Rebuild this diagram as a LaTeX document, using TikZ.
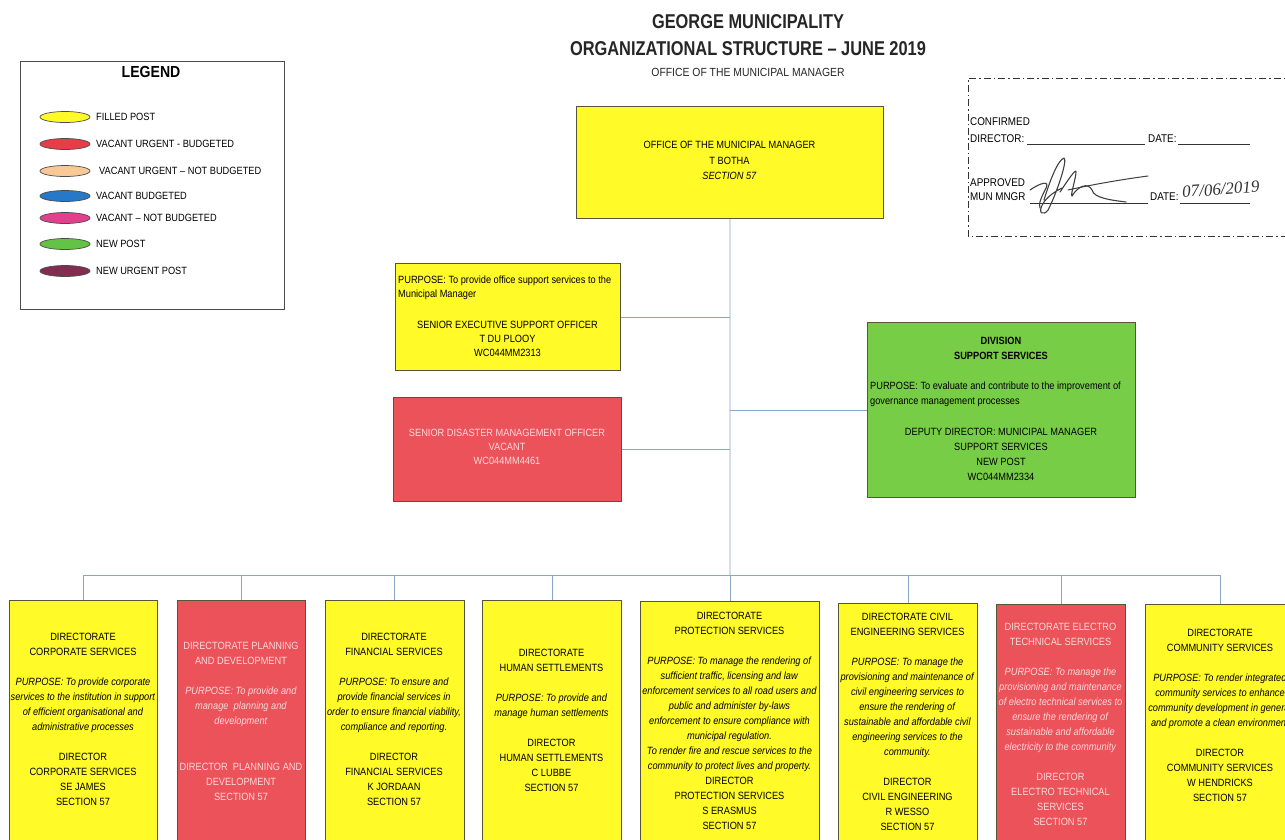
\documentclass[tikz,border=0pt]{standalone}
\usepackage{fontspec}
\setmainfont{Liberation Sans}[FakeStretch=0.88]
\newfontfamily\titlefont{Liberation Sans}[FakeStretch=0.82]
\newfontfamily\handfont{Liberation Serif}
\usetikzlibrary{shapes.geometric}
\definecolor{fillY}{RGB}{255,250,40}
\definecolor{fillR}{RGB}{236,82,90}
\definecolor{fillG}{RGB}{120,205,70}
\definecolor{boxline}{RGB}{85,85,55}
\definecolor{linkblue}{RGB}{140,165,192}
\definecolor{redtext}{RGB}{252,218,218}
\definecolor{lgY}{RGB}{255,250,40}
\definecolor{lgR}{RGB}{230,62,72}
\definecolor{lgP}{RGB}{248,200,150}
\definecolor{lgB}{RGB}{40,120,200}
\definecolor{lgK}{RGB}{225,65,140}
\definecolor{lgG}{RGB}{100,195,70}
\definecolor{lgM}{RGB}{130,45,80}
\newcommand\ip[1]{\textit{#1}}
\begin{document}
\begin{tikzpicture}[x=1pt,y=-1pt,
  box/.style={draw=boxline, line width=0.9pt, inner sep=0pt, rectangle, anchor=north west},
  ybox/.style={box, fill=fillY},
  rbox/.style={box, fill=fillR},
  gbox/.style={box, fill=fillG},
  txt/.style={inner sep=0pt, align=center, anchor=north, font=\fontsize{10.5}{15}\selectfont},
  ltxtblk/.style={inner sep=0pt, align=left, anchor=north west, font=\fontsize{10.5}{14}\selectfont},
  wtxt/.style={txt, text=redtext},
  link/.style={draw=linkblue, line width=0.9pt},
  ell/.style={ellipse, draw=black!70, line width=0.7pt, minimum width=50pt, minimum height=11pt, inner sep=0pt},
  legtxt/.style={inner sep=0pt, anchor=west, font=\fontsize{10.5}{12}\selectfont},
  apptxt/.style={inner sep=0pt, anchor=west, font=\fontsize{11.2}{12}\selectfont},
  uline/.style={draw=black!80, line width=0.6pt}
]
\useasboundingbox (0,0) rectangle (1285,839);
\fill[white] (0,0) rectangle (1285,839);

% title
\node[inner sep=0pt, font=\titlefont\bfseries\fontsize{20}{20}\selectfont, text=black!85] (t1) at (748,22) {GEORGE MUNICIPALITY};
\node[inner sep=0pt, font=\titlefont\bfseries\fontsize{20}{20}\selectfont, text=black!85] (t2) at (748,49) {ORGANIZATIONAL STRUCTURE – JUNE 2019};
\node[inner sep=0pt, font=\fontsize{11.8}{12}\selectfont, text=black!85] (t3) at (748,72) {OFFICE OF THE MUNICIPAL MANAGER};

% legend
\node[draw=black!70, line width=0.8pt, rectangle, inner sep=0pt, minimum width=264pt, minimum height=248pt, anchor=north west] (leg) at (20,61) {};
\node[inner sep=0pt, font=\bfseries\fontsize{16}{16}\selectfont] (legt) at (151,72) {LEGEND};
\node[ell, fill=lgY] (l1) at (65,117) {};
\node[legtxt] (l1t) at (96,117) {FILLED POST};
\node[ell, fill=lgR] (l2) at (65,144) {};
\node[legtxt] (l2t) at (96,144) {VACANT URGENT - BUDGETED};
\node[ell, fill=lgP] (l3) at (65,171) {};
\node[legtxt] (l3t) at (99,171) {VACANT URGENT – NOT BUDGETED};
\node[ell, fill=lgB] (l4) at (65,196) {};
\node[legtxt] (l4t) at (96,196) {VACANT BUDGETED};
\node[ell, fill=lgK] (l5) at (65,218) {};
\node[legtxt] (l5t) at (96,218) {VACANT – NOT BUDGETED};
\node[ell, fill=lgG] (l6) at (65,244) {};
\node[legtxt] (l6t) at (96,244) {NEW POST};
\node[ell, fill=lgM] (l7) at (65,271) {};
\node[legtxt] (l7t) at (96,271) {NEW URGENT POST};

% approval box
\draw[black!80, line width=0.8pt, dash pattern=on 7pt off 3pt on 1.5pt off 3pt] (1295,78) -- (968,78) -- (968,236) -- (1295,236);
\node[apptxt] (conf) at (970,122) {CONFIRMED};
\node[apptxt] (dirl) at (970,139) {DIRECTOR:};
\coordinate (u1a) at (1027,144); \coordinate (u1b) at (1145,144);
\draw[uline] (u1a) -- (u1b);
\node[apptxt] (date1) at (1148,139) {DATE:};
\coordinate (u2a) at (1178,144); \coordinate (u2b) at (1250,144);
\draw[uline] (u2a) -- (u2b);
\node[apptxt] (appr) at (970,183) {APPROVED};
\node[apptxt] (mun) at (970,197) {MUN MNGR};
\coordinate (u3a) at (1030,203); \coordinate (u3b) at (1148,203);
\draw[uline] (u3a) -- (u3b);
\node[apptxt] (date2) at (1150,197) {DATE:};
\coordinate (u4a) at (1180,203); \coordinate (u4b) at (1250,203);
\draw[uline] (u4a) -- (u4b);
% signature
\draw[black!75, line width=1.1pt, line cap=round, line join=round]
  (1030,190) .. controls (1040,183) and (1050,180) .. (1046,188)
  .. controls (1042,196) and (1038,204) .. (1040,208);
\draw[black!75, line width=1.1pt, line cap=round, line join=round]
  (1044,200) .. controls (1050,180) and (1058,160) .. (1064,158)
  .. controls (1068,160) and (1056,195) .. (1048,210)
  .. controls (1044,216) and (1036,214) .. (1044,202)
  .. controls (1050,194) and (1058,190) .. (1062,188);
\draw[black!75, line width=1.1pt, line cap=round, line join=round]
  (1060,192) .. controls (1068,180) and (1076,168) .. (1076,172)
  .. controls (1076,178) and (1070,196) .. (1072,196)
  .. controls (1078,186) and (1088,182) .. (1092,190)
  .. controls (1094,198) and (1110,200) .. (1126,202);
\draw[black!75, line width=1.0pt, line cap=round]
  (1068,190) .. controls (1095,184) and (1125,179) .. (1148,176);
\node[inner sep=0pt, anchor=west, font=\handfont\itshape\fontsize{17}{17}\selectfont, text=black!80, rotate=4] (hdate) at (1182,192) {07/06/2019};

% office of the municipal manager
\node[ybox, minimum width=307pt, minimum height=112pt] (omm) at (576,106) {};
\node[txt, font=\fontsize{10.5}{15.5}\selectfont] (ommt) at (729.5,141) {OFFICE OF THE MUNICIPAL MANAGER\\T BOTHA\\\textit{SECTION 57}};

% senior executive support officer
\node[ybox, minimum width=225pt, minimum height=107pt] (ses) at (395,263) {};
\node[ltxtblk] (sesp) at (398,276) {PURPOSE: To provide office support services to the\\Municipal Manager};
\node[txt, font=\fontsize{10.5}{14}\selectfont] (sest) at (507.5,321) {SENIOR EXECUTIVE SUPPORT OFFICER\\T DU PLOOY\\WC044MM2313};

% senior disaster management officer
\node[rbox, minimum width=228pt, minimum height=104pt] (sdm) at (393,397) {};
\node[wtxt, font=\fontsize{10.5}{14}\selectfont] (sdmt) at (507,429) {SENIOR DISASTER MANAGEMENT OFFICER\\VACANT\\WC044MM4461};

% division support services
\node[gbox, minimum width=268pt, minimum height=175pt] (dss) at (867,322) {};
\node[txt, font=\bfseries\fontsize{10.5}{15}\selectfont] (dsst) at (1001,337) {DIVISION\\SUPPORT SERVICES};
\node[ltxtblk, font=\fontsize{10.5}{15}\selectfont] (dssp) at (870,382) {PURPOSE: To evaluate and contribute to the improvement of\\governance management processes};
\node[txt] (dssd) at (1001,428) {DEPUTY DIRECTOR: MUNICIPAL MANAGER\\SUPPORT SERVICES\\NEW POST\\WC044MM2334};

% directorates
\node[ybox, minimum width=148pt, minimum height=260pt] (d1) at (9,600) {};
\node[rbox, minimum width=128pt, minimum height=260pt] (d2) at (177,600) {};
\node[ybox, minimum width=139pt, minimum height=260pt] (d3) at (324.5,600) {};
\node[ybox, minimum width=139pt, minimum height=260pt] (d4) at (482,600) {};
\node[ybox, minimum width=179pt, minimum height=260pt] (d5) at (640,601) {};
\node[ybox, minimum width=139pt, minimum height=260pt] (d6) at (838,603) {};
\node[rbox, minimum width=129pt, minimum height=260pt] (d7) at (996,604) {};
\node[ybox, minimum width=150pt, minimum height=260pt] (d8) at (1145,604) {};

\node[txt] (d1t) at (83,633) {DIRECTORATE\\CORPORATE SERVICES\\[15pt]
\ip{PURPOSE: To provide corporate}\\\ip{services to the institution in support}\\\ip{of efficient organisational and}\\\ip{administrative processes}\\[15pt]
DIRECTOR\\CORPORATE SERVICES\\SE JAMES\\SECTION 57};

\node[wtxt] (d2t) at (241,642) {DIRECTORATE PLANNING\\AND DEVELOPMENT\\[15pt]
\ip{PURPOSE: To provide and}\\\ip{manage\ \ planning and}\\\ip{development}\\[31pt]
DIRECTOR\ \ PLANNING AND\\DEVELOPMENT\\SECTION 57};

\node[txt] (d3t) at (394,633) {DIRECTORATE\\FINANCIAL SERVICES\\[15pt]
\ip{PURPOSE: To ensure and}\\\ip{provide financial services in}\\\ip{order to ensure financial viability,}\\\ip{compliance and reporting.}\\[15pt]
DIRECTOR\\FINANCIAL SERVICES\\K JORDAAN\\SECTION 57};

\node[txt] (d4t) at (551.5,649) {DIRECTORATE\\HUMAN SETTLEMENTS\\[15pt]
\ip{PURPOSE: To provide and}\\\ip{manage human settlements}\\[15pt]
DIRECTOR\\HUMAN SETTLEMENTS\\C LUBBE\\SECTION 57};

\node[txt] (d5t) at (729.5,612) {DIRECTORATE\\PROTECTION SERVICES\\[15pt]
\ip{PURPOSE: To manage the rendering of}\\\ip{sufficient traffic, licensing and law}\\\ip{enforcement services to all road users and}\\\ip{public and administer by-laws}\\\ip{enforcement to ensure compliance with}\\\ip{municipal regulation.}\\\ip{To render fire and rescue services to the}\\\ip{community to protect lives and property.}\\
DIRECTOR\\PROTECTION SERVICES\\S ERASMUS\\SECTION 57};

\node[txt] (d6t) at (907.5,613) {DIRECTORATE CIVIL\\ENGINEERING SERVICES\\[15pt]
\ip{PURPOSE: To manage the}\\\ip{provisioning and maintenance of}\\\ip{civil engineering services to}\\\ip{ensure the rendering of}\\\ip{sustainable and affordable civil}\\\ip{engineering services to the}\\\ip{community.}\\[15pt]
DIRECTOR\\CIVIL ENGINEERING\\R WESSO\\SECTION 57};

\node[wtxt] (d7t) at (1060.5,623) {DIRECTORATE ELECTRO\\TECHNICAL SERVICES\\[15pt]
\ip{PURPOSE: To manage the}\\\ip{provisioning and maintenance}\\\ip{of electro technical services to}\\\ip{ensure the rendering of}\\\ip{sustainable and affordable}\\\ip{electricity to the community}\\[15pt]
DIRECTOR\\ELECTRO TECHNICAL\\SERVICES\\SECTION 57};

\node[txt] (d8t) at (1220,629) {DIRECTORATE\\COMMUNITY SERVICES\\[15pt]
\ip{PURPOSE: To render integrated}\\\ip{community services to enhance}\\\ip{community development in general}\\\ip{and promote a clean environment}\\[15pt]
DIRECTOR\\COMMUNITY SERVICES\\W HENDRICKS\\SECTION 57};

% connectors
\coordinate (bus) at (730,575);
\draw[link] (omm.south) -- (bus);
\draw[link] (ses.east) -- (ses.east -| omm.south);
\draw[link] (sdm.east) -- (sdm.east -| omm.south);
\draw[link] (dss.west -| omm.south) -- (dss.west);
\draw[link] (d1.north |- bus) -- (d8.north |- bus);
\foreach \d in {d1,d2,d3,d4,d5,d6,d7,d8}{
  \draw[link] (\d.north |- bus) -- (\d.north);
}
\end{tikzpicture}
\end{document}
